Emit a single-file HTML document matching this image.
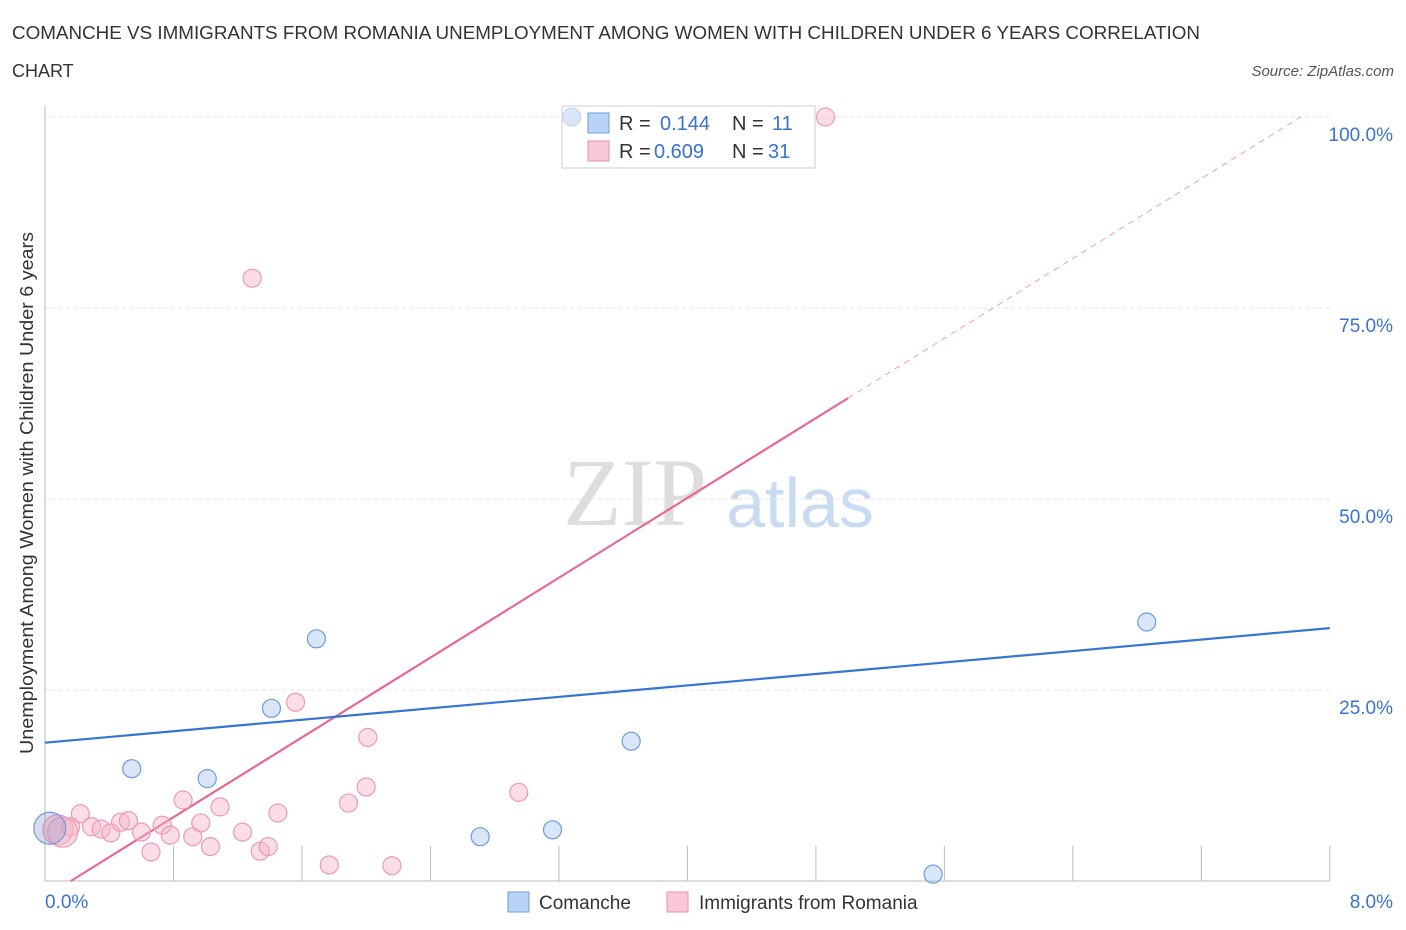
<!DOCTYPE html>
<html><head><meta charset="utf-8"><style>
body{margin:0;background:#fff;font-family:"Liberation Sans",sans-serif;}
svg{display:block}
</style></head><body>
<svg id="c" width="1406" height="930" xmlns="http://www.w3.org/2000/svg">
<text x="12" y="39" font-size="18" fill="#333" textLength="1188" lengthAdjust="spacingAndGlyphs">COMANCHE VS IMMIGRANTS FROM ROMANIA UNEMPLOYMENT AMONG WOMEN WITH CHILDREN UNDER 6 YEARS CORRELATION</text>
<text x="12" y="77" font-size="18" fill="#333">CHART</text>
<text x="1394" y="76" font-size="15" fill="#555" font-style="italic" text-anchor="end">Source: ZipAtlas.com</text>
<text x="635" y="525" font-size="96" fill="#ddd" font-family="Liberation Serif,serif" text-anchor="middle">ZIP</text>
<text x="800" y="527" font-size="70" fill="#c9dbf3" text-anchor="middle">atlas</text>
<g id="grid"></g><g id="axes"></g><g id="lines"></g>
<text x="33" y="493" font-size="18" fill="#333" text-anchor="middle" textLength="522" lengthAdjust="spacingAndGlyphs" transform="rotate(-90 33 493)">Unemployment Among Women with Children Under 6 years</text>
<g>
<rect x="562" y="106" width="253" height="62" fill="#fff" stroke="#ccc"/>
<rect x="588" y="113" width="21" height="20" fill="#b9d3f5" stroke="#6a9be0"/>
<text x="619" y="130" font-size="20" fill="#333">R = </text><text x="660" y="130" font-size="20" fill="#3a72d0">0.144</text>
<text x="732" y="130" font-size="20" fill="#333">N = </text><text x="772" y="130" font-size="20" fill="#3a72d0">11</text>
<rect x="588" y="141" width="21" height="20" fill="#f8c8d6" stroke="#e890aa"/>
<text x="619" y="158" font-size="20" fill="#333">R = </text><text x="654" y="158" font-size="20" fill="#3a72d0">0.609</text>
<text x="732" y="158" font-size="20" fill="#333">N = </text><text x="768" y="158" font-size="20" fill="#3a72d0">31</text>
</g>
<g id="pts"></g>
<g>
<rect x="508" y="892" width="21" height="20" fill="#b9d3f5" stroke="#6a9be0"/>
<text x="539" y="909" font-size="19" fill="#333">Comanche</text>
<rect x="667" y="892" width="21" height="20" fill="#f8c8d6" stroke="#e890aa"/>
<text x="699" y="909" font-size="19" fill="#333">Immigrants from Romania</text>
</g>
</svg>
<script>
const xTicks=[0,0.8,1.6,2.4,3.2,4.0,4.8,5.6,6.4,7.2,8.0];
const yTicks=[25,50,75,100];
const yTickLabels=["25.0%","50.0%","75.0%","100.0%"];
const xLabels=["0.0%","8.0%"];
const comX=[0.03,0.54,1.01,1.41,1.69,2.71,3.16,3.65,5.53,6.86,3.28];
const comY=[6.9,14.7,13.4,22.6,31.7,5.8,6.7,18.3,0.9,33.9,100];
const romX=[0.08,0.16,0.22,0.29,0.35,0.41,0.47,0.52,0.60,0.66,0.73,0.78,0.86,0.92,0.97,1.03,1.09,1.23,1.34,1.39,1.45,1.77,1.89,2.00,2.16,1.29,1.56,2.01,2.95,4.86,0.11];
const romY=[6.7,7.1,8.8,7.1,6.8,6.3,7.7,7.9,6.4,3.8,7.3,6.0,10.6,5.8,7.6,4.5,9.7,6.4,3.9,4.5,8.9,2.1,10.2,12.3,2.0,78.9,23.4,18.8,11.6,100,6.4];
const comLine=[18.1,33.1];
const romLine={intercept:-2.1,slope:13.06,solidEnd:5.0,dashEnd:7.82};
const NS="http://www.w3.org/2000/svg";
const X=v=>45+v*160.6, Y=v=>881-v*7.64;
function mk(t,a,p){const e=document.createElementNS(NS,t);for(const k in a)e.setAttribute(k,a[k]);document.getElementById(p).appendChild(e);return e;}
yTicks.forEach((t,i)=>{
 const l=mk('line',{x1:45,x2:1330,y1:Y(t),y2:Y(t),stroke:'#e4e4e4','stroke-dasharray':'4,3'},'grid');
 
 
 const tx=mk('text',{x:1393,y:Y(t)+24,'font-size':19,fill:'#3a72d0','text-anchor':'end'},'axes');
 tx.textContent=yTickLabels[i];
 
 
});
let ax=mk('line',{x1:45,x2:1330,y1:881,y2:881,stroke:'#bbb'},'axes');


let ay=mk('line',{x1:45,x2:45,y1:105,y2:881,stroke:'#bbb'},'axes');


xTicks.forEach(t=>{
 const l=mk('line',{x1:X(t),x2:X(t),y1:846,y2:881,stroke:'#bbb'},'axes');
 
 
});
[[0,xLabels[0],'start',45],[8,xLabels[1],'end',1393]].forEach(d=>{
 const tx=mk('text',{x:d[3],y:908,'font-size':19,fill:'#3a72d0','text-anchor':d[2]},'axes');
 tx.textContent=d[1];
 
 
});
const rf=x=>romLine.intercept+romLine.slope*x;
const x0=-romLine.intercept/romLine.slope;
let pl=mk('line',{x1:X(x0),y1:Y(0),x2:X(romLine.solidEnd),y2:Y(rf(romLine.solidEnd)),stroke:'#e8698f','stroke-width':2.2},'lines');


let pd=mk('line',{x1:X(romLine.solidEnd),y1:Y(rf(romLine.solidEnd)),x2:X(romLine.dashEnd),y2:Y(rf(romLine.dashEnd)),stroke:'#eaa0b6','stroke-width':1,'stroke-dasharray':'6,5'},'lines');


let bl=mk('line',{x1:X(0),y1:Y(comLine[0]),x2:X(8),y2:Y(comLine[1]),stroke:'#3575d3','stroke-width':2.2},'lines');


romX.forEach((x,i)=>{
 const big=(i===0||i===30);
 const c=mk('circle',{cx:X(x),cy:Y(romY[i]),r:big?15:9,fill:'rgba(246,180,200,0.45)',stroke:'#eb9ab3','stroke-width':1.2},'pts');
 
 
});
comX.forEach((x,i)=>{
 const c=mk('circle',{cx:X(x),cy:Y(comY[i]),r:i===0?16:9,fill:i===0?'rgba(150,150,200,0.35)':'rgba(170,200,240,0.45)',stroke:i===10?'#c8d8f0':'#6b9be0','stroke-width':1.2},'pts');
 
 
});
</script>
</body></html>
